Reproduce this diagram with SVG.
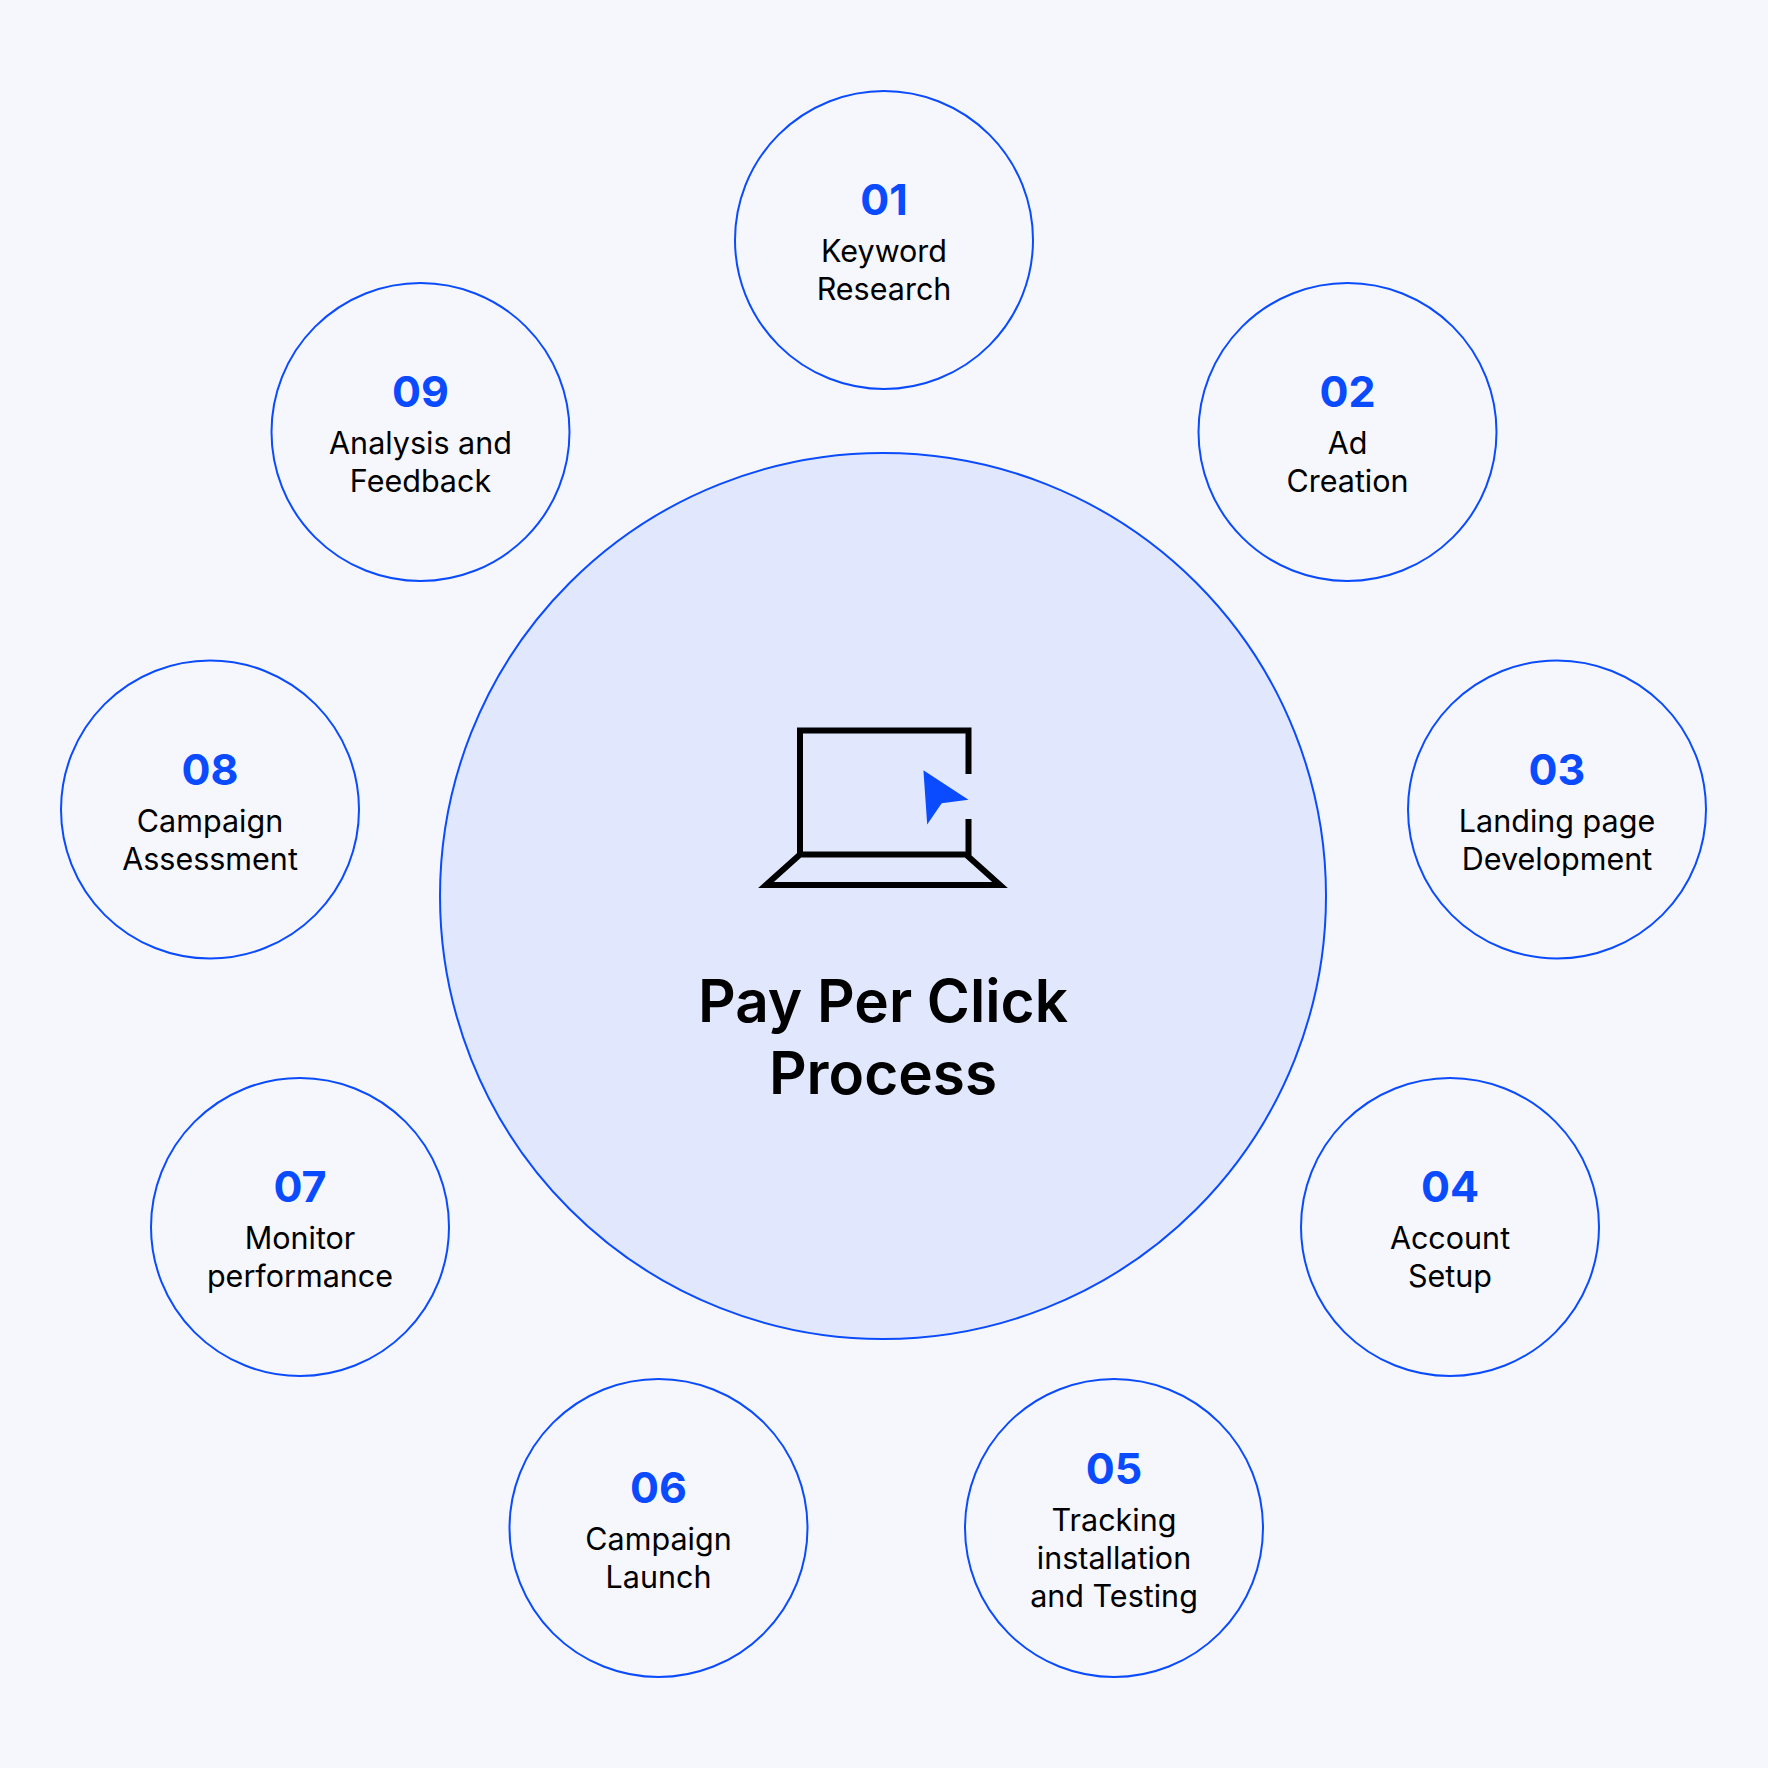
<svg xmlns="http://www.w3.org/2000/svg" width="1768" height="1768" viewBox="0 0 1768 1768">
<style>
.c{fill:none;stroke:#0A4BFF;stroke-width:2}
.n{font-family:Inter,"Liberation Sans",sans-serif;font-weight:700;font-size:43px;fill:#0A4BFF;text-anchor:middle}
.t{font-family:Inter,"Liberation Sans",sans-serif;font-size:30.5px;fill:#000;text-anchor:middle}
.h{font-family:Inter,"Liberation Sans",sans-serif;font-weight:600;font-size:58.5px;fill:#000;text-anchor:middle}
</style>
<rect width="1768" height="1768" fill="#F5F7FC"/>
<g id="center">
<circle cx="883" cy="896" r="443" fill="#E1E8FD" stroke="#0A4BFF" stroke-width="2"/>
<path d="M968.5 774 V730.5 H800 V854.5 H968.5 V819 M800 854.5 L766 885 H1000 L966 854.5" fill="none" stroke="#000" stroke-width="6"/>
<path d="M923.4 770.3 L968.5 799.8 L941.7 803.2 L927.2 824.6 Z" fill="#0A4BFF"/>
<text class="h" x="883" y="1022">Pay Per Click</text>
<text class="h" x="883" y="1094">Process</text>
</g>
<g id="n01"><circle class="c" cx="884" cy="240" r="149"/><text class="n" x="884" y="215">01</text><text class="t" x="884" y="262">Keyword</text><text class="t" x="884" y="300">Research</text></g>
<g id="n02"><circle class="c" cx="1347.5" cy="432" r="149"/><text class="n" x="1347.5" y="407">02</text><text class="t" x="1347.5" y="454">Ad</text><text class="t" x="1347.5" y="492">Creation</text></g>
<g id="n03"><circle class="c" cx="1557" cy="809.5" r="149"/><text class="n" x="1557" y="784.5">03</text><text class="t" x="1557" y="831.5">Landing page</text><text class="t" x="1557" y="869.5">Development</text></g>
<g id="n04"><circle class="c" cx="1450" cy="1227" r="149"/><text class="n" x="1450" y="1202">04</text><text class="t" x="1450" y="1249">Account</text><text class="t" x="1450" y="1287">Setup</text></g>
<g id="n05"><circle class="c" cx="1114" cy="1528" r="149"/><text class="n" x="1114" y="1484">05</text><text class="t" x="1114" y="1531">Tracking</text><text class="t" x="1114" y="1569">installation</text><text class="t" x="1114" y="1607">and Testing</text></g>
<g id="n06"><circle class="c" cx="658.5" cy="1528" r="149"/><text class="n" x="658.5" y="1503">06</text><text class="t" x="658.5" y="1550">Campaign</text><text class="t" x="658.5" y="1588">Launch</text></g>
<g id="n07"><circle class="c" cx="300" cy="1227" r="149"/><text class="n" x="300" y="1202">07</text><text class="t" x="300" y="1249">Monitor</text><text class="t" x="300" y="1287">performance</text></g>
<g id="n08"><circle class="c" cx="210" cy="809.5" r="149"/><text class="n" x="210" y="784.5">08</text><text class="t" x="210" y="831.5">Campaign</text><text class="t" x="210" y="869.5">Assessment</text></g>
<g id="n09"><circle class="c" cx="420.5" cy="432" r="149"/><text class="n" x="420.5" y="407">09</text><text class="t" x="420.5" y="454">Analysis and</text><text class="t" x="420.5" y="492">Feedback</text></g>
<g id="connectors"/>
</svg>
